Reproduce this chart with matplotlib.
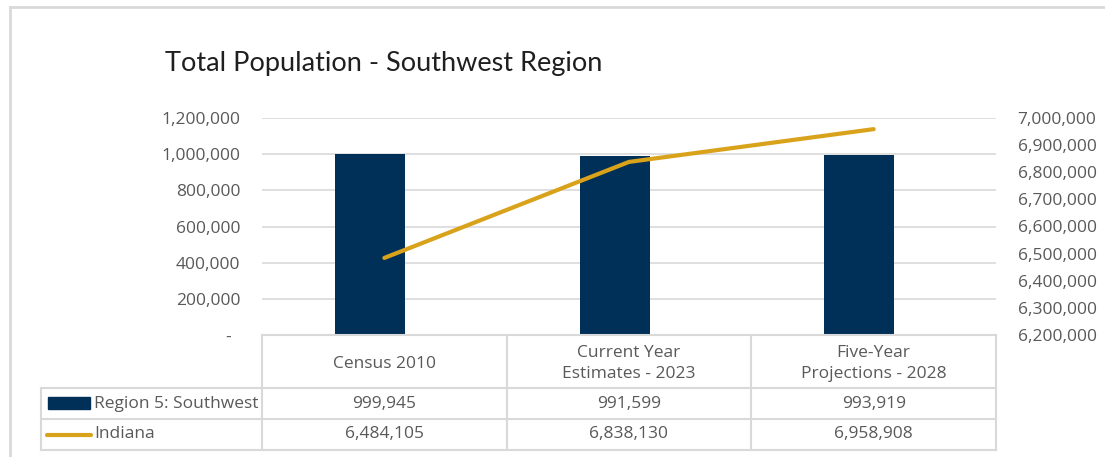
import matplotlib.pyplot as plt
import numpy as np

categories = ["Census 2010", "Current Year\nEstimates - 2023", "Five-Year\nProjections - 2028"]
region_vals = [999945, 991599, 993919]
indiana_vals = [6484105, 6838130, 6958908]
series_names = ["Region 5: Southwest", "Indiana"]
left_ticks = [0, 200000, 400000, 600000, 800000, 1000000, 1200000]
right_ticks = [6200000 + 100000 * i for i in range(9)]

W, H = 1105, 457
bar_color = "#003057"
line_color = "#D9A21B"
grid_color = "#d9d9d9"
text_color = "#595959"
font = "Open Sans"
fs = 12.5

fig = plt.figure(figsize=(W / 100, H / 100), dpi=100)

# plot area in pixels
px_l, px_r, px_t, px_b = 262, 996, 118, 335
ax = fig.add_axes([px_l / W, 1 - px_b / H, (px_r - px_l) / W, (px_b - px_t) / H])
x = np.arange(len(categories))
ax.bar(x - 0.058, region_vals, width=0.286, color=bar_color, zorder=2)
ax.set_xlim(-0.5, len(categories) - 0.5)
ax.set_ylim(0, 1200000)
ax.set_yticks(left_ticks)
ax.set_yticklabels([f"{v:,}" if v else "-  " for v in left_ticks])
ax.yaxis.grid(True, color=grid_color, lw=1.2, zorder=0)
ax.set_xticks([])
for s in ax.spines.values():
    s.set_visible(False)
ax.tick_params(axis="y", length=0, pad=15.5, labelsize=fs, labelcolor=text_color)
for lab in ax.get_yticklabels():
    lab.set_family(font)

ax2 = ax.twinx()
ax2.plot(x, indiana_vals, color=line_color, lw=3, solid_capstyle="round", zorder=3)
ax2.set_ylim(6200000, 7000000)
ax2.set_yticks(right_ticks)
ax2.set_yticklabels([f"{v:,}" for v in right_ticks])
for s in ax2.spines.values():
    s.set_visible(False)
ax2.tick_params(axis="y", length=0, pad=15.5, labelsize=fs, labelcolor=text_color)
for lab in ax2.get_yticklabels():
    lab.set_family(font)

# overlay in pixel coordinates for the title, frame and data table
ov = fig.add_axes([0, 0, 1, 1], zorder=5)
ov.set_xlim(0, W)
ov.set_ylim(H, 0)
ov.axis("off")
ov.patch.set_alpha(0)

ov.plot([10, W], [7, 7], color=grid_color, lw=2)
ov.plot([10, 10], [7, H], color=grid_color, lw=2)

ov.text(165, 63, "Total Population - Southwest Region", fontsize=19.5, family="Lato",
        color="#1f1f1f", va="center", ha="left")

col_w = (px_r - px_l) / len(categories)
col_edges = [px_l + col_w * i for i in range(len(categories) + 1)]
row_y = [px_b, 388, 419, 450]
tleft = 41

ov.plot([px_l, px_r], [px_b, px_b], color=grid_color, lw=1.5)
for yy in row_y[1:]:
    ov.plot([tleft, px_r], [yy, yy], color=grid_color, lw=1.5)
for xx in col_edges:
    ov.plot([xx, xx], [px_b, row_y[-1]], color=grid_color, lw=1.5)
ov.plot([tleft, tleft], [row_y[1], row_y[-1]], color=grid_color, lw=1.5)

for i, cat in enumerate(categories):
    cx = (col_edges[i] + col_edges[i + 1]) / 2
    ov.text(cx, (row_y[0] + row_y[1]) / 2 + 2, cat, ha="center", va="center",
            fontsize=fs, family=font, color=text_color, linespacing=1.45)
    ov.text(cx, (row_y[1] + row_y[2]) / 2, f"{region_vals[i]:,}", ha="center", va="center",
            fontsize=fs, family=font, color=text_color)
    ov.text(cx, (row_y[2] + row_y[3]) / 2, f"{indiana_vals[i]:,}", ha="center", va="center",
            fontsize=fs, family=font, color=text_color)

# legend keys inside the table
ov.add_patch(plt.Rectangle((48, 397), 42, 12, color=bar_color))
ov.plot([47, 91], [434.5, 434.5], color=line_color, lw=3, solid_capstyle="round")
ov.text(94, (row_y[1] + row_y[2]) / 2, series_names[0], ha="left", va="center",
        fontsize=fs, family=font, color=text_color)
ov.text(94, (row_y[2] + row_y[3]) / 2, series_names[1], ha="left", va="center",
        fontsize=fs, family=font, color=text_color)

fig.savefig("out.png", dpi=100)
